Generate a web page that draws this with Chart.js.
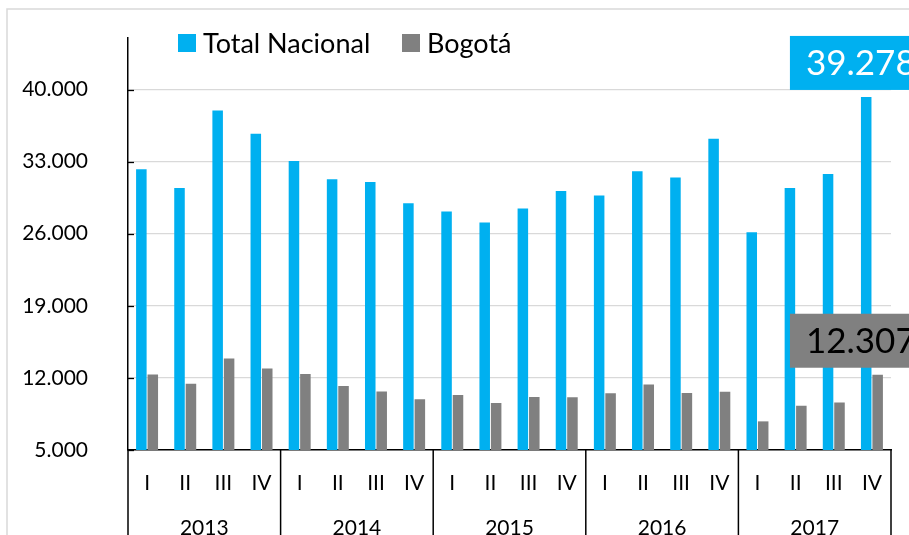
<!DOCTYPE html>
<html lang="es">
<head>
    <meta charset="UTF-8">
    <title>Total Nacional vs Bogotá</title>
    <script src="https://cdn.jsdelivr.net/npm/chart.js"></script>
    <style>
        body { margin: 0; background: #ffffff; }
        #chart { display: block; }
    </style>
</head>
<body>
    <canvas id="chart" width="909" height="535"></canvas>

    <script>
        // Data
        const years = ['2013', '2014', '2015', '2016', '2017'];
        const quarters = ['I', 'II', 'III', 'IV'];
        const totalNacional = [32250, 30440, 37950, 35710, 33060, 31280, 31020, 28960, 28150, 27080,
                               28440, 30150, 29700, 32060, 31450, 35230, 26140, 30440, 31800, 39278];
        const bogota = [12340, 11430, 13890, 12920, 12370, 11210, 10690, 9920, 10330, 9560,
                        10140, 10110, 10500, 11370, 10530, 10660, 7780, 9300, 9620, 12307];
        const yTicks = [5000, 12000, 19000, 26000, 33000, 40000];

        const labels = years.flatMap(() => quarters);
        const FONT = 'Lato, "Open Sans", sans-serif';

        function fmt(v) {
            return String(Math.round(v)).replace(/\B(?=(\d{3})+(?!\d))/g, '.');
        }

        // Frame, inside ticks, year groups, legend and the two value boxes
        const extras = {
            id: 'extras',
            beforeDraw(chart) {
                const ctx = chart.ctx;
                ctx.save();
                ctx.strokeStyle = '#d9d9d9';
                ctx.lineWidth = 1.5;
                ctx.strokeRect(7, 9, 1200, 1200);
                ctx.restore();
            },
            afterDraw(chart) {
                const ctx = chart.ctx;
                const x = chart.scales.x;
                const y = chart.scales.y;
                const area = chart.chartArea;
                ctx.save();

                // inside tick marks
                ctx.strokeStyle = '#000';
                ctx.lineWidth = 1.3;
                yTicks.forEach(t => {
                    const py = Math.round(y.getPixelForValue(t)) + 0.5;
                    ctx.beginPath();
                    ctx.moveTo(area.left, py);
                    ctx.lineTo(area.left + 6, py);
                    ctx.stroke();
                });

                // year separators and labels
                const step = (area.right - area.left) / labels.length;
                ctx.lineWidth = 1.5;
                for (let i = 0; i <= years.length; i++) {
                    const px = area.left + i * quarters.length * step;
                    ctx.beginPath();
                    ctx.moveTo(px, area.bottom);
                    ctx.lineTo(px, chart.height);
                    ctx.stroke();
                }
                ctx.fillStyle = '#000';
                ctx.font = '21px ' + FONT;
                ctx.textAlign = 'center';
                ctx.textBaseline = 'middle';
                years.forEach((yr, i) => {
                    const cx = (x.getPixelForValue(i * 4) + x.getPixelForValue(i * 4 + 3)) / 2;
                    ctx.fillText(yr, cx, 528);
                });

                // legend
                ctx.textAlign = 'left';
                ctx.font = '27px ' + FONT;
                chart.data.datasets.forEach((ds, i) => {
                    const lx = [178, 402][i];
                    ctx.fillStyle = ds.backgroundColor;
                    ctx.fillRect(lx, 34, 18, 18);
                    ctx.fillStyle = '#000';
                    ctx.fillText(ds.label, lx + 25, 44);
                });

                // value boxes on the last quarter
                const last = labels.length - 1;
                const cxLast = x.getPixelForValue(last);
                ctx.font = '35px ' + FONT;
                chart.data.datasets.forEach((ds, i) => {
                    const bar = chart.getDatasetMeta(i).data[last];
                    const bottom = bar.y - 7;
                    const left = cxLast - 82;
                    ctx.fillStyle = ds.backgroundColor;
                    ctx.fillRect(left, bottom - 54, 200, 54);
                    ctx.fillStyle = i === 0 ? '#ffffff' : '#000000';
                    ctx.fillText(fmt(ds.data[last]), left + 16, bottom - 26);
                });

                ctx.restore();
            }
        };

        new Chart(document.getElementById('chart'), {
            type: 'bar',
            data: {
                labels: labels,
                datasets: [
                    { label: 'Total Nacional', data: totalNacional, backgroundColor: '#00B0F0' },
                    { label: 'Bogotá', data: bogota, backgroundColor: '#808080' }
                ]
            },
            options: {
                responsive: false,
                animation: false,
                devicePixelRatio: 1,
                layout: { padding: { top: 38, right: 18, left: 0, bottom: 0 } },
                datasets: { bar: { categoryPercentage: 0.6, barPercentage: 0.92 } },
                plugins: { legend: { display: false }, tooltip: { enabled: false } },
                scales: {
                    x: {
                        afterFit(scale) { scale.height = 85; },
                        grid: { display: false, drawTicks: false },
                        border: { color: '#000', width: 1.5 },
                        ticks: {
                            color: '#000',
                            font: { family: FONT, size: 21 },
                            padding: 21,
                            maxRotation: 0,
                            autoSkip: false
                        }
                    },
                    y: {
                        min: 5000,
                        max: 45000,
                        afterFit(scale) {
                            scale.width = 128;
                            // label padding is horizontal only here
                            scale.paddingTop = 0;
                            scale.paddingBottom = 0;
                        },
                        afterBuildTicks(scale) { scale.ticks = yTicks.map(v => ({ value: v })); },
                        grid: { color: '#d9d9d9', lineWidth: 1.3, drawTicks: false },
                        border: { color: '#000', width: 1.5 },
                        ticks: {
                            color: '#000',
                            font: { family: FONT, size: 21 },
                            padding: 40,
                            callback: v => fmt(v)
                        }
                    }
                }
            },
            plugins: [extras]
        });
    </script>
</body>
</html>
